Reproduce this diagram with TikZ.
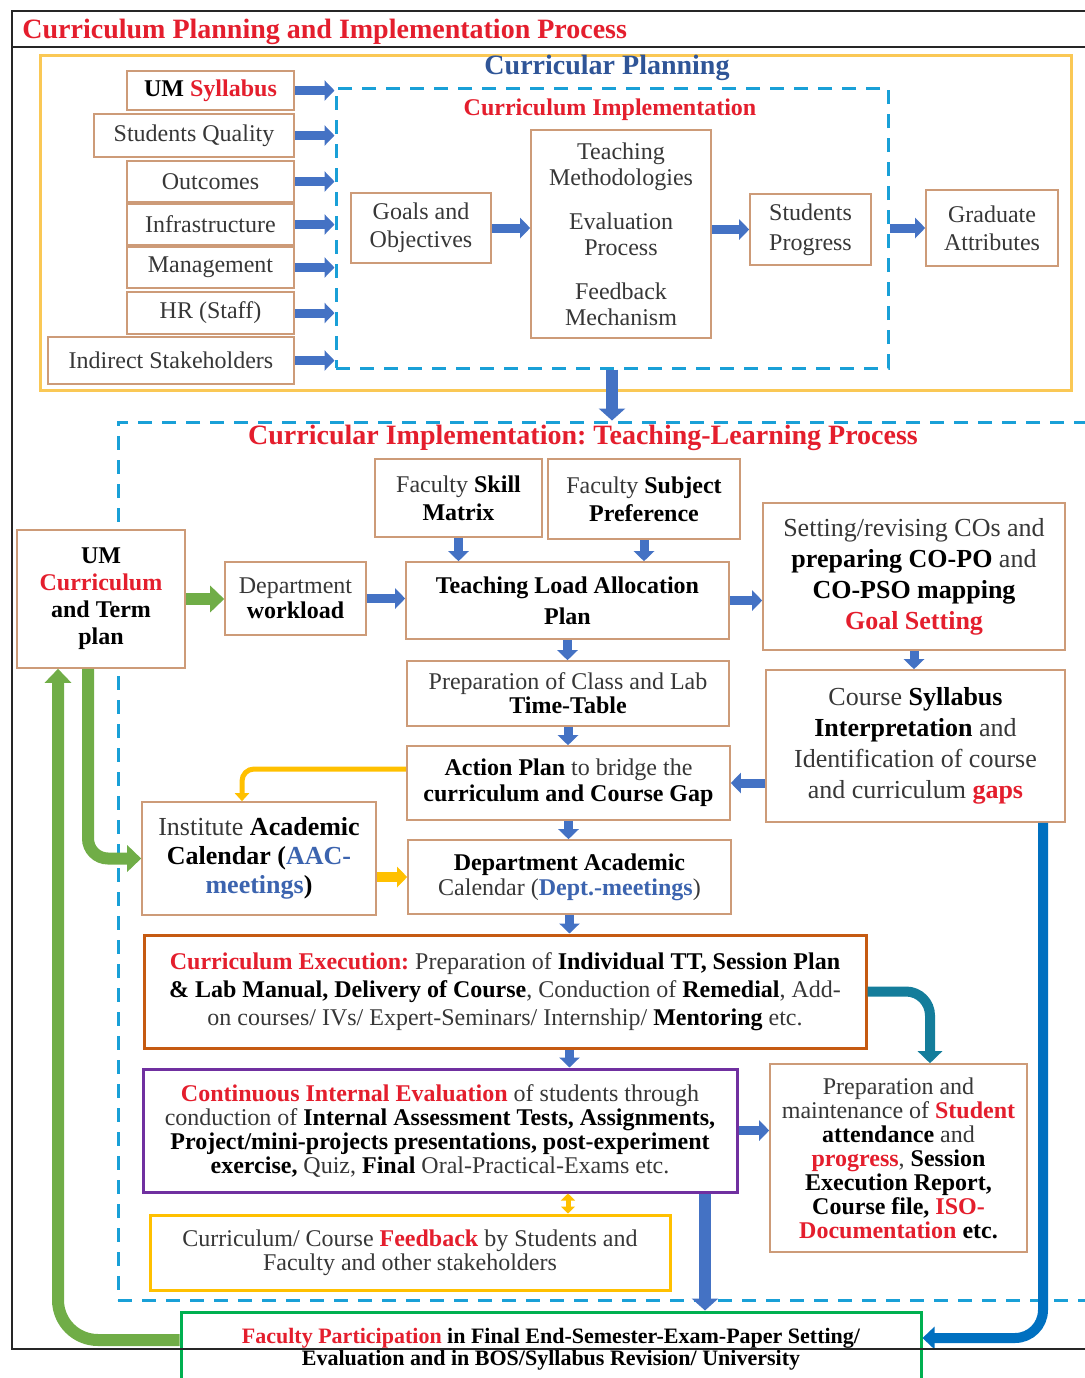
\documentclass[tikz,border=0pt]{standalone}
\usepackage{fontspec}
\setmainfont{Liberation Serif}
\usetikzlibrary{arrows.meta,positioning,calc}
\frenchspacing
\definecolor{umred}{RGB}{228,30,45}
\definecolor{hdblue}{RGB}{47,85,151}
\definecolor{txblue}{RGB}{60,100,175}
\definecolor{txtgray}{RGB}{55,55,55}
\definecolor{boxbrown}{RGB}{205,155,120}
\definecolor{planyellow}{RGB}{250,200,85}
\definecolor{dashcyan}{RGB}{25,160,215}
\definecolor{arrblue}{RGB}{68,114,196}
\definecolor{arrgreen}{RGB}{112,173,71}
\definecolor{arrteal}{RGB}{20,125,155}
\definecolor{arrdeep}{RGB}{0,112,192}
\definecolor{arryellow}{RGB}{255,192,0}
\definecolor{cebrown}{RGB}{197,90,17}
\definecolor{ciepurple}{RGB}{112,48,160}
\definecolor{fpgreen}{RGB}{0,176,80}
\newcommand{\rdb}[1]{\textbf{\color{umred}#1}}
\newcommand{\bkb}[1]{\textbf{\color{black}#1}}
\newcommand{\blb}[1]{\textbf{\color{txblue}#1}}
\tikzset{
  >=Triangle,
  every node/.append style={font=\fontsize{12}{14}\selectfont},
}
\tikzset{
  box/.style={draw=boxbrown, line width=0.8pt, fill=white, align=center, inner sep=1pt,
              text=txtgray, font=\fontsize{12}{14}\selectfont},
  ttl/.style={font=\fontsize{14}{16}\selectfont\bfseries, inner sep=0pt},
  planbox/.style={draw=planyellow, line width=1.5pt},
  dashbox/.style={draw=dashcyan, line width=1.5pt, dash pattern=on 7pt off 5pt},
  outerline/.style={draw=black!85, line width=0.8pt}
}
\begin{document}
\begin{tikzpicture}[
  x=0.5pt, y=-0.5pt,
  barr/.style ={-{Triangle[length=5pt,width=10pt]}, line width=4.5pt, draw=arrblue},
  bigarr/.style={-{Triangle[length=6pt,width=13pt]}, line width=6pt, draw=arrblue},
  garr/.style ={-{Triangle[length=7pt,width=13pt]}, line width=6pt, draw=arrgreen},
  tarr/.style ={-{Triangle[length=6pt,width=12pt]}, line width=5pt, draw=arrteal},
  darr/.style ={-{Triangle[length=6pt,width=11pt]}, line width=5pt, draw=arrdeep},
  yarr/.style ={-{Triangle[length=5pt,width=10pt]}, line width=5pt, draw=arryellow},
  ythin/.style={-{Triangle[length=4pt,width=7pt]}, line width=2.5pt, draw=arryellow},
  ydbl/.style ={{Triangle[length=3.5pt,width=7pt]}-{Triangle[length=3.5pt,width=7pt]},
                line width=2.5pt, draw=arryellow}
]
\useasboundingbox (0,0) rectangle (1084,1378);

% frames
\node[planbox, minimum width=515.5pt, minimum height=167.5pt] (plan) at (555.5,222.5) {};
\node[dashbox, minimum width=276pt, minimum height=140pt] (impl) at (612,228) {};
\node[dashbox, minimum width=491pt, minimum height=439pt] (tlp) at (609,861) {};

% titles
\node[ttl, text=umred, anchor=west] (title) at (22,32) {Curriculum Planning and Implementation Process};
\node[ttl, text=hdblue] (plantitle) at (607,68) {Curricular Planning};
\node[ttl, text=umred, font=\fontsize{12}{14}\selectfont\bfseries] (impltitle) at (610,110) {Curriculum Implementation};
\node[ttl, text=umred] (tlptitle) at (583,438) {Curricular Implementation: Teaching-Learning Process};

% planning inputs
\node[box, minimum width=83.5pt, minimum height=19.5pt] (syl)   at (210.5,90.5)  {\bkb{UM} \rdb{Syllabus}};
\node[box, minimum width=100pt,  minimum height=21.5pt] (squal) at (194,135.5)   {Students Quality};
\node[box, minimum width=83.5pt, minimum height=20.5pt] (outc)  at (210.5,181.5) {Outcomes};
\node[box, minimum width=83.5pt, minimum height=20.5pt] (infra) at (210.5,224.5) {Infrastructure};
\node[box, minimum width=83.5pt, minimum height=20.5pt] (mgmt)  at (210.5,267.5) {Management};
\node[box, minimum width=83.5pt, minimum height=21pt]   (hr)    at (210.5,313)   {HR (Staff)};
\node[box, minimum width=123pt,  minimum height=23.5pt] (indir) at (171,360.5)   {Indirect Stakeholders};

% implementation chain
\node[box, minimum width=70pt, minimum height=35pt] (goals) at (421,228) {Goals and\\Objectives};
\node[box, minimum width=90pt, minimum height=104pt, font=\fontsize{12}{13}\selectfont] (teach) at (621,234)
  {Teaching\\Methodologies\\[9pt]Evaluation\\Process\\[9pt]Feedback\\Mechanism};
\node[box, minimum width=60.5pt, minimum height=35.5pt, font=\fontsize{12}{15}\selectfont] (sprog) at (810.5,229.5) {Students\\Progress};
\node[box, minimum width=66pt, minimum height=38pt] (grad) at (992,228) {Graduate\\Attributes};

% teaching-learning process
\node[box, minimum width=83.5pt, minimum height=39pt] (fskill) at (458.5,498) {Faculty \bkb{Skill}\\\bkb{Matrix}};
\node[box, minimum width=96pt, minimum height=40pt] (fsubj) at (644,499) {Faculty \bkb{Subject}\\\bkb{Preference}};
\node[box, minimum width=84pt, minimum height=69pt, font=\fontsize{12}{13.5}\selectfont] (umc) at (101,599)
  {\bkb{UM}\\\rdb{Curriculum}\\\bkb{and Term}\\\bkb{plan}};
\node[box, minimum width=70.5pt, minimum height=36.5pt, font=\fontsize{12}{12.5}\selectfont] (dwork) at (295.5,598.5) {Department\\\bkb{workload}};
\node[box, minimum width=161.5pt, minimum height=38.5pt, font=\fontsize{12}{15.5}\selectfont] (tload) at (567.5,600.5)
  {\bkb{Teaching Load Allocation}\\\bkb{Plan}};
\node[box, minimum width=151pt, minimum height=73.5pt, font=\fontsize{13}{15.5}\selectfont] (setco) at (914,576.5)
  {Setting/revising COs and\\\bkb{preparing CO-PO} and\\\bkb{CO-PSO mapping}\\\rdb{Goal Setting}};
\node[box, minimum width=149.5pt, minimum height=76pt, font=\fontsize{13}{15.5}\selectfont] (csyl) at (915.5,746)
  {Course \bkb{Syllabus}\\\bkb{Interpretation} and\\Identification of course\\and curriculum \rdb{gaps}};
\node[box, minimum width=161pt, minimum height=32.5pt, font=\fontsize{12}{12}\selectfont] (ttab) at (568,693.5)
  {Preparation of Class and Lab\\\bkb{Time-Table}};
\node[box, minimum width=161.5pt, minimum height=37pt, font=\fontsize{12}{13}\selectfont] (aplan) at (568.5,783)
  {\bkb{Action Plan} to bridge the\\\bkb{curriculum and Course Gap}};
\node[box, minimum width=117pt, minimum height=56.5pt, font=\fontsize{13}{14.5}\selectfont] (iac) at (259,858.5)
  {Institute \bkb{Academic}\\\bkb{Calendar (}\blb{AAC-}\\\blb{meetings}\bkb{)}};
\node[box, minimum width=161.5pt, minimum height=37pt, font=\fontsize{12}{12.5}\selectfont] (dac) at (569.5,877)
  {\bkb{Department Academic}\\Calendar (\blb{Dept.-meetings})};
\node[box, draw=cebrown, line width=1.5pt, minimum width=361pt, minimum height=56.5pt] (cexec) at (505,991.5)
  {\rdb{Curriculum Execution:} Preparation of \bkb{Individual TT, Session Plan}\\
   \bkb{\& Lab Manual, Delivery of Course}, Conduction of \bkb{Remedial}, Add-\\
   on courses/ IVs/ Expert-Seminars/ Internship/ \bkb{Mentoring} etc.};
\node[box, draw=ciepurple, line width=1.5pt, minimum width=297pt, minimum height=61.5pt, font=\fontsize{12}{12}\selectfont] (cie) at (440,1130.5)
  {\rdb{Continuous Internal Evaluation} of students through\\
   conduction of \bkb{Internal Assessment Tests, Assignments,}\\
   \bkb{Project/mini-projects presentations, post-experiment}\\
   \bkb{exercise,} Quiz, \bkb{Final} Oral-Practical-Exams etc.};
\node[box, minimum width=128.5pt, minimum height=94pt, font=\fontsize{12}{12}\selectfont] (prep) at (898.5,1158)
  {Preparation and\\maintenance of \rdb{Student}\\\bkb{attendance} and\\\rdb{progress}, \bkb{Session}\\
   \bkb{Execution Report,}\\\bkb{Course file,} \rdb{ISO-}\\\rdb{Documentation} \bkb{etc.}};
\node[box, draw=arryellow, line width=1.5pt, minimum width=260pt, minimum height=37.5pt, font=\fontsize{12}{12}\selectfont] (fback) at (410,1252.5)
  {Curriculum/ Course \rdb{Feedback} by Students and\\Faculty and other stakeholders};
\node[box, draw=fpgreen, line width=1.5pt, minimum width=370pt, minimum height=37pt, font=\fontsize{11}{11}\selectfont] (fpart) at (551,1349)
  {\rdb{Faculty Participation} \bkb{in Final End-Semester-Exam-Paper Setting/}\\
   \bkb{Evaluation and in BOS/Syllabus Revision/ University}};

% planning arrows
\foreach \n in {syl,squal,outc,infra,mgmt,hr,indir}{
  \draw[barr] (\n.east) -- (\n.east -| impl.west);
}
\draw[barr] (goals.east) -- (goals.east -| teach.west);
\draw[barr] (sprog.west -| teach.east) -- (sprog.west);
\draw[barr] (impl.east) -- (grad.west);
\draw[bigarr] (impl.south) -- (impl.south |- tlp.north);

% teaching-learning arrows
\draw[barr] (fskill.south) -- (fskill.south |- tload.north);
\draw[barr] (fsubj.south) -- (fsubj.south |- tload.north);
\draw[garr] (umc.east) -- (umc.east -| dwork.west);
\draw[barr] (dwork.east) -- (dwork.east -| tload.west);
\draw[barr] (tload.east) -- (tload.east -| setco.west);
\draw[barr] (setco.south) -- (setco.south |- csyl.north);
\draw[barr] (tload.south) -- (tload.south |- ttab.north);
\draw[barr] (ttab.south) -- (ttab.south |- aplan.north);
\draw[barr] (aplan.east -| csyl.west) -- (aplan.east);
\draw[ythin, rounded corners=6pt] ([yshift=7pt]aplan.west) -| ([xshift=-8.5pt]iac.north);
\draw[barr] (aplan.south) -- (aplan.south |- dac.north);
\draw[yarr] (iac.east |- dac.west) -- (dac.west);
\draw[garr, rounded corners=10pt] ([xshift=-6.5pt]umc.south) |- (iac.west);
\draw[barr] (dac.south) -- (dac.south |- cexec.north);
\draw[barr] (dac.south |- cexec.south) -- (dac.south |- cie.north);
\draw[tarr, rounded corners=12pt] (cexec.east) -| ([xshift=15.75pt]prep.north);
\draw[barr] (cie.east) -- (cie.east -| prep.west);
\draw[ydbl] ([xshift=64pt]cie.south) -- ([xshift=64pt]cie.south |- fback.north);
\draw[bigarr] ([xshift=132.5pt]cie.south) -- ([xshift=132.5pt]cie.south |- fpart.north);
\draw[darr, rounded corners=14pt] ([xshift=63.75pt]csyl.south) |- ([yshift=5.5pt]fpart.east);
\draw[garr, rounded corners=20pt] ([yshift=4.5pt]fpart.west) -| ([xshift=-21.5pt]umc.south);

% outer frame
\draw[outerline] (12,11) rectangle (1100,1349);
\draw[outerline] (12,47) -- (1100,47);

\end{tikzpicture}
\end{document}
